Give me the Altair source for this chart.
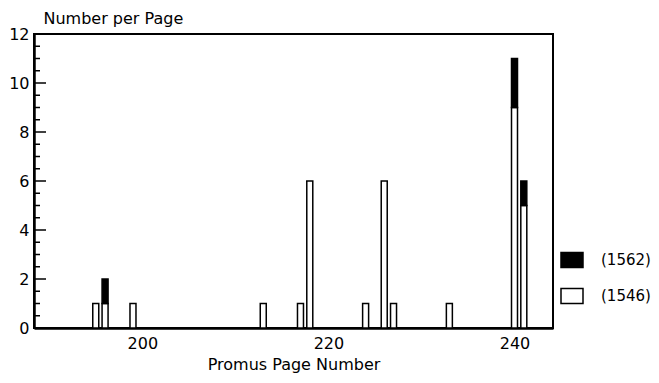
import altair as alt
import pandas as pd

# ---- data ----
pages = [195, 196, 199, 213, 217, 218, 224, 226, 227, 233, 240, 241]
count_1546 = [1, 1, 1, 1, 1, 6, 1, 6, 1, 1, 9, 5]
count_1562 = [0, 1, 0, 0, 0, 0, 0, 0, 0, 0, 2, 1]
series_names = ["(1562)", "(1546)"]
series_colors = ["black", "white"]
x_ticks = [200, 220, 240]
y_major = [0, 2, 4, 6, 8, 10, 12]
y_minor = [0.5, 1, 1.5, 2.5, 3, 3.5, 4.5, 5, 5.5, 6.5, 7, 7.5, 8.5, 9, 9.5, 10.5, 11, 11.5]

rows = []
for p, a, b in zip(pages, count_1546, count_1562):
    if a:
        rows.append({"page": p, "n": a, "series": "(1546)", "ord": 0})
    if b:
        rows.append({"page": p, "n": b, "series": "(1562)", "ord": 1})
df = pd.DataFrame(rows)
major_df = pd.DataFrame({"y": y_major})
minor_df = pd.DataFrame({"y": y_minor})

FONT = "DejaVu Sans"
W, H = 519, 294
xscale = alt.Scale(domain=[188.9, 243.6], nice=False, zero=False)
yscale = alt.Scale(domain=[0, 12], nice=False)

bars = alt.Chart(df).mark_bar(size=6, stroke="black", strokeWidth=1.5).encode(
    x=alt.X("page:Q", scale=xscale,
            axis=alt.Axis(values=x_ticks, title="Promus Page Number", ticks=False, tickSize=0,
                          grid=False, labelPadding=7, titlePadding=5,
                          domainColor="black", domainWidth=2.5)),
    y=alt.Y("n:Q", stack="zero", scale=yscale,
            axis=alt.Axis(values=y_major, title="Number per Page", ticks=False, tickSize=0,
                          grid=False, labelPadding=5, titleAngle=0, titleAlign="left",
                          titleBaseline="alphabetic", titleX=9, titleY=-11,
                          domainColor="black", domainWidth=2.5)),
    color=alt.Color("series:N",
                    scale=alt.Scale(domain=series_names, range=series_colors),
                    legend=alt.Legend(title=None, orient="none", legendX=526, legendY=214,
                                      symbolType="M-1,-0.68L1,-0.68L1,0.68L-1,0.68Z",
                                      symbolSize=484, symbolStrokeColor="black",
                                      symbolStrokeWidth=1.5, symbolOpacity=1,
                                      rowPadding=13, labelOffset=17, padding=0,
                                      labelFont=FONT, labelFontSize=15, labelColor="black")),
    order=alt.Order("ord:Q"),
)

major = alt.Chart(major_df).mark_rule(color="black", strokeWidth=1.5).encode(
    y=alt.Y("y:Q", scale=yscale), x=alt.value(0), x2=alt.value(12))
minor = alt.Chart(minor_df).mark_rule(color="black", strokeWidth=1.5).encode(
    y=alt.Y("y:Q", scale=yscale), x=alt.value(0), x2=alt.value(6))

chart = alt.layer(bars, major, minor).properties(
    width=W, height=H,
    autosize=alt.AutoSizeParams(type="none"),
    padding={"left": 26, "top": 26, "right": 98, "bottom": 47},
    background="white",
).configure_view(stroke="black", strokeWidth=2).configure_axis(
    labelFont=FONT, labelFontSize=16, labelColor="black",
    titleFont=FONT, titleFontSize=16, titleColor="black", titleFontWeight="normal",
)

chart.save("out.html", embed_options={"renderer": "svg", "actions": False})
